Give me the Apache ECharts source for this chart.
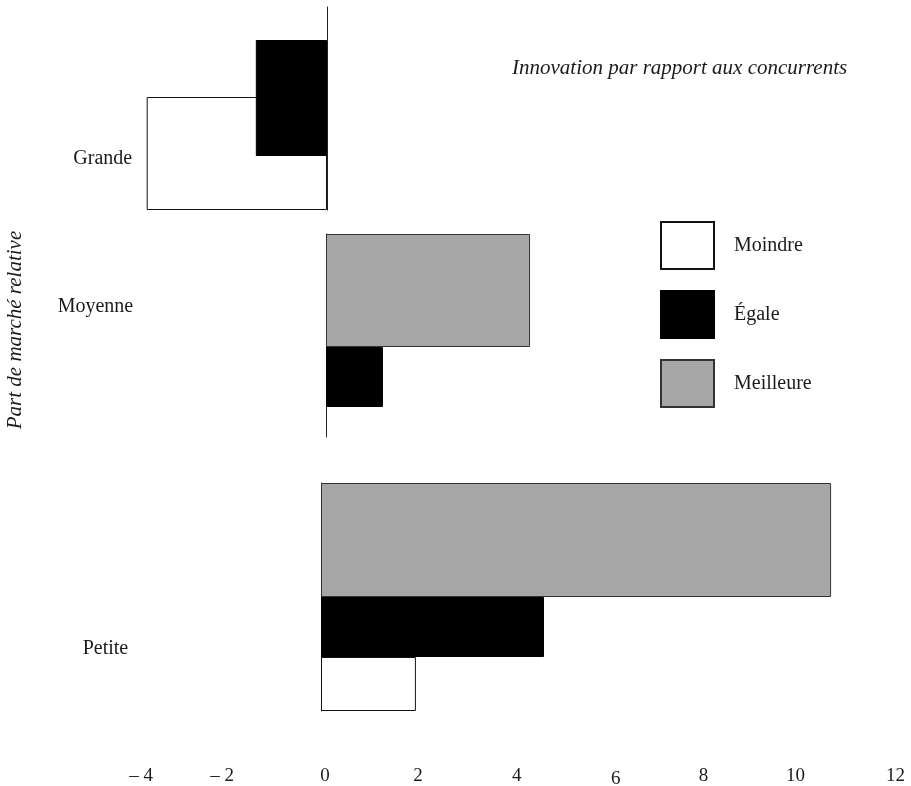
<!DOCTYPE html>
<html><head><meta charset="utf-8">
<script src="https://cdn.jsdelivr.net/npm/echarts@6/dist/echarts.min.js"></script>
<style>html,body{margin:0;padding:0;background:#fff}#c{width:911px;height:786px}</style>
</head><body><div id="c"></div>
<script>
// ---- data ----
const categories = ['Grande', 'Moyenne', 'Petite'];
const seriesNames = ['Moindre', 'Égale', 'Meilleure'];
const moindreValues = [-3.8, null, 2.0];
const egaleValues = [-1.5, 1.2, 4.7];
const meilleureValues = [null, 4.3, 10.75];
const xTickValues = [-4, -2, 0, 2, 4, 6, 8, 10, 12];
const xTickLabels = ['– 4', '– 2', '0', '2', '4', '6', '8', '10', '12'];
const chartTitle = 'Innovation par rapport aux concurrents';
const yAxisTitle = 'Part de marché relative';

// ---- styles / layout ----
const valuesBySeries = [moindreValues, egaleValues, meilleureValues];
const FONT = '"Liberation Serif", "Times New Roman", serif';
const INK = '#1a1a1a';
const seriesStyles = [
  { color: '#ffffff', borderColor: '#111111', borderWidth: 1 },
  { color: '#000000', borderColor: '#000000', borderWidth: 1 },
  { color: '#a6a6a6', borderColor: '#333333', borderWidth: 1 }
];
const seriesZ = [2, 3, 2];
const PX_PER_UNIT = 47.45, X_MIN = -4, X_MAX = 12;
// small typographic nudges of the tick labels as in the original print [dx, dy]
const tickNudges = [[10, 4], [-4, 4], [4, 4], [2, 4], [6, 4], [10, 7], [3, 4], [0, 4], [5, 4]];
// slots: order of bars from top to bottom (-1 = empty spacer slot)
const groupLayout = [
  { zeroX: 327, top: 7, height: 203, slots: [-1, 1, 0], widths: [67.2, 116, 113], gap: '-50.86%', labelPadding: [100, 0, 0, 0], margin: 5 },
  { zeroX: 326, top: 234, height: 203, slots: [2, 1, -1], widths: [113, 60, 30], gap: '0%', labelPadding: [0, 0, 57, 0], margin: 3 },
  { zeroX: 321, top: 483, height: 228, slots: [2, 1, 0], widths: [114, 60, 54], gap: '0%', labelPadding: [104, 0, 0, 0], margin: 3 }
];

const tickRich = {};
tickNudges.forEach((n, i) => {
  const dx = n[0], dy = n[1];
  tickRich['t' + i] = {
    fontFamily: FONT, fontSize: 19, color: INK,
    padding: [dy, dx < 0 ? -2 * dx : 0, 0, dx > 0 ? 2 * dx : 0]
  };
});

const grids = [], xAxes = [], yAxes = [], series = [];
groupLayout.forEach((g, gi) => {
  grids.push({
    left: g.zeroX - (0 - X_MIN) * PX_PER_UNIT,
    width: (X_MAX - X_MIN) * PX_PER_UNIT,
    top: g.top, height: g.height, containLabel: false, outerBoundsMode: 'none'
  });
  const isBottom = gi === groupLayout.length - 1;
  xAxes.push({
    type: 'value', gridIndex: gi, min: X_MIN, max: X_MAX, interval: 2,
    show: isBottom,
    axisLine: { show: false }, axisTick: { show: false }, splitLine: { show: false },
    axisLabel: {
      show: isBottom, margin: 52, color: INK, hideOverlap: false,
      formatter: v => { const i = xTickValues.indexOf(v); return i >= 0 ? '{t' + i + '|' + xTickLabels[i] + '}' : ''; },
      rich: tickRich
    }
  });
  yAxes.push({
    type: 'category', gridIndex: gi, data: [categories[gi]],
    axisLine: { show: true, onZero: true, lineStyle: { color: '#222', width: 1 } },
    axisTick: { show: false }, splitLine: { show: false },
    axisLabel: {
      margin: g.margin, color: INK,
      formatter: v => '{c|' + v + '}',
      rich: { c: { fontFamily: FONT, fontSize: 20, color: INK, padding: g.labelPadding } }
    }
  });
  g.slots.forEach((si, k) => {
    if (si < 0) {
      series.push({
        type: 'bar', name: '', xAxisIndex: gi, yAxisIndex: gi, data: [null],
        barWidth: g.widths[k], barGap: g.gap, silent: true,
        itemStyle: { color: 'rgba(0,0,0,0)' }
      });
    } else {
      series.push({
        type: 'bar', name: seriesNames[si], xAxisIndex: gi, yAxisIndex: gi,
        data: [valuesBySeries[si][gi]], barWidth: g.widths[k], barGap: g.gap,
        z: seriesZ[si], itemStyle: seriesStyles[si], emphasis: { disabled: true }
      });
    }
  });
});

const chart = echarts.init(document.getElementById('c'), null, { renderer: 'canvas' });
chart.setOption({
  animation: false,
  backgroundColor: '#ffffff',
  title: {
    text: chartTitle, left: 512, top: 58, padding: 0,
    textStyle: { fontFamily: FONT, fontStyle: 'italic', fontWeight: 'normal', fontSize: 21, color: INK }
  },
  legend: {
    data: seriesNames, orient: 'vertical', left: 660, top: 221, padding: 0,
    itemWidth: 53, itemHeight: 47, itemGap: 20, icon: 'rect', selectedMode: false,
    textStyle: { fontFamily: FONT, fontSize: 20, color: INK, padding: [0, 0, 0, 15] }
  },
  graphic: [{
    type: 'text', x: 15, y: 330, rotation: Math.PI / 2,
    style: {
      text: yAxisTitle, fontFamily: FONT, fontStyle: 'italic', fontSize: 21, fill: INK,
      align: 'center', verticalAlign: 'middle'
    }
  }],
  grid: grids, xAxis: xAxes, yAxis: yAxes, series: series
});
</script></body></html>
